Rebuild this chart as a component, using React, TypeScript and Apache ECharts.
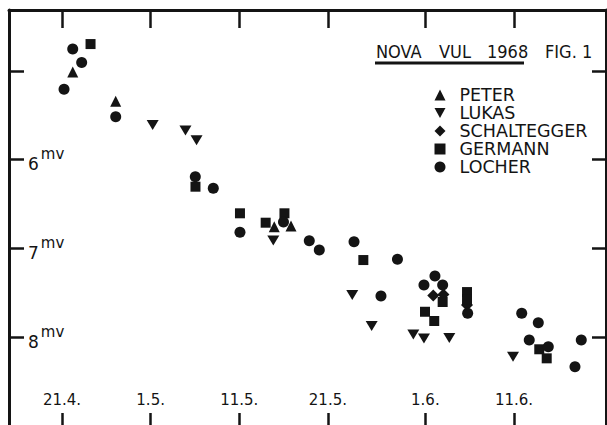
import React, { useEffect, useRef } from 'react';
import * as echarts from 'echarts';

// x = days after 21 April 1968, y = visual magnitude (mv)
const dayTicks = [0, 10, 20, 30, 41, 51];
const dayTickLabels = ['21.4.', '1.5.', '11.5.', '21.5.', '1.6.', '11.6.'];
const magTicks = [5, 6, 7, 8];
const magLabelTicks = [6, 7, 8];

const peterDays = [1.21, 6.06, 23.95, 25.84];
const peterMags = [5.01, 5.34, 6.755, 6.747];

const lukasDays = [10.23, 13.93, 15.18, 23.84, 32.75, 34.94, 39.64, 40.84, 43.7, 50.89];
const lukasMags = [5.609, 5.671, 5.781, 6.911, 7.525, 7.875, 7.971, 8.016, 8.01, 8.221];

const schalteggerDays = [41.89, 43.04, 45.7];
const schalteggerMags = [7.531, 7.52, 7.638];

const germannDays = [3.22, 15.06, 20.08, 22.98, 25.1, 34.0, 42.95, 40.96, 42.0, 45.7, 45.7, 53.85, 54.69];
const germannMags = [4.696, 6.304, 6.604, 6.71, 6.604, 7.131, 7.604, 7.714, 7.818, 7.492, 7.571, 8.137, 8.239];

const locherDays = [1.21, 2.22, 0.23, 6.06, 15.04, 17.07, 20.08, 24.99, 27.9, 29.03, 32.95, 37.85, 35.99, 40.84, 42.08, 42.95, 45.77, 51.87, 53.74, 52.72, 54.87, 58.59, 57.88];
const locherMags = [4.752, 4.904, 5.206, 5.515, 6.192, 6.322, 6.818, 6.702, 6.913, 7.018, 6.924, 7.123, 7.537, 7.413, 7.311, 7.413, 7.732, 7.732, 7.838, 8.033, 8.108, 8.033, 8.334];

const zip = (xs: number[], ys: number[]) => xs.map((x, i) => [x, ys[i]]);

const INK = '#141414';
const FONT = '"DejaVu Sans", sans-serif';
const FONT_C = '"DejaVu Sans Condensed", "DejaVu Sans", sans-serif';
const INV_TRI = 'path://M0,0L10,0L5,9Z';

export default function App() {
  const ref = useRef<HTMLDivElement>(null);
  useEffect(() => {
    if (!ref.current) return;
    const chart = echarts.init(ref.current, null, { renderer: 'svg' });
    const series = [
      { name: 'PETER', symbol: 'triangle', symbolSize: 11, data: zip(peterDays, peterMags) },
      { name: 'LUKAS', symbol: INV_TRI, symbolSize: [12, 10], data: zip(lukasDays, lukasMags) },
      { name: 'SCHALTEGGER', symbol: 'diamond', symbolSize: 12, data: zip(schalteggerDays, schalteggerMags) },
      { name: 'GERMANN', symbol: 'rect', symbolSize: 10, data: zip(germannDays, germannMags) },
      { name: 'LOCHER', symbol: 'circle', symbolSize: 11, data: zip(locherDays, locherMags) },
    ].map((s) => ({
      ...s,
      type: 'scatter',
      xAxisIndex: 0,
      yAxisIndex: 0,
      itemStyle: { color: INK, opacity: 1 },
      emphasis: { disabled: true },
    }));

    const axisLine = { show: true, onZero: false, lineStyle: { color: INK, width: 3 } };
    chart.setOption({
      animation: false,
      backgroundColor: '#ffffff',
      grid: { left: 9, top: 10, width: 597, height: 420, containLabel: false },
      xAxis: [
        {
          type: 'value',
          position: 'bottom',
          min: -5.98,
          max: 61.38,
          axisLine,
          splitLine: { show: false },
          axisTick: { show: true, inside: true, length: 17, customValues: dayTicks, lineStyle: { color: INK, width: 2.5 } },
          axisLabel: {
            show: true,
            inside: true,
            margin: 23,
            customValues: dayTicks,
            formatter: (v: number) => {
              const i = dayTicks.indexOf(Math.round(v));
              return i >= 0 ? dayTickLabels[i] : '';
            },
            fontFamily: FONT,
            fontSize: 15,
            color: INK,
          },
        },
        {
          type: 'value',
          position: 'top',
          min: -5.98,
          max: 61.38,
          axisLine,
          splitLine: { show: false },
          axisTick: { show: true, inside: true, length: 18, customValues: dayTicks, lineStyle: { color: INK, width: 2.5 } },
          axisLabel: { show: false },
        },
      ],
      yAxis: [
        {
          type: 'value',
          position: 'left',
          inverse: true,
          min: 4.312,
          max: 9.047,
          axisLine,
          splitLine: { show: false },
          axisTick: { show: true, inside: true, length: 15, customValues: magTicks, lineStyle: { color: INK, width: 2.5 } },
          axisLabel: {
            show: true,
            inside: true,
            margin: 19,
            customValues: magLabelTicks,
            formatter: (v: number) => `{a|${Math.round(v)}}{b|mv}`,
            rich: {
              a: { fontFamily: FONT, fontSize: 17, color: INK, lineHeight: 26, verticalAlign: 'bottom' },
              b: { fontFamily: FONT, fontSize: 15, color: INK, lineHeight: 26, verticalAlign: 'top', padding: [0, 0, 0, 2] },
            },
          },
        },
        {
          type: 'value',
          position: 'right',
          inverse: true,
          min: 4.312,
          max: 9.047,
          axisLine,
          splitLine: { show: false },
          axisTick: { show: true, inside: true, length: 14, customValues: magTicks, lineStyle: { color: INK, width: 2.5 } },
          axisLabel: { show: false },
        },
      ],
      legend: {
        orient: 'vertical',
        left: 434.5,
        top: 86,
        padding: 0,
        itemWidth: 11,
        itemHeight: 11,
        itemGap: 0,
        selectedMode: false,
        textStyle: { fontFamily: FONT, fontSize: 17.5, color: INK, lineHeight: 17.5, padding: [0, 0, 0, 9] },
        data: [
          { name: 'PETER', icon: 'triangle' },
          { name: 'LUKAS', icon: INV_TRI },
          { name: 'SCHALTEGGER', icon: 'diamond' },
          { name: 'GERMANN', icon: 'rect' },
          { name: 'LOCHER', icon: 'circle' },
        ],
      },
      graphic: [
        { type: 'text', left: 376, top: 42, style: { text: 'NOVA', font: `18px ${FONT_C}`, fill: INK } },
        { type: 'text', left: 439, top: 42, style: { text: 'VUL', font: `18px ${FONT_C}`, fill: INK } },
        { type: 'text', left: 487, top: 42, style: { text: '1968', font: `18px ${FONT_C}`, fill: INK } },
        { type: 'text', left: 545, top: 42, style: { text: 'FIG. 1', font: `18px ${FONT_C}`, fill: INK } },
        { type: 'line', shape: { x1: 375, y1: 63, x2: 524, y2: 63 }, style: { stroke: INK, lineWidth: 3 } },
      ],
      series,
    });
    return () => chart.dispose();
  }, []);
  return (
    <div
      ref={ref}
      style={{ position: 'fixed', left: 0, top: 0, width: 612, height: 440, background: '#fff' }}
    />
  );
}
